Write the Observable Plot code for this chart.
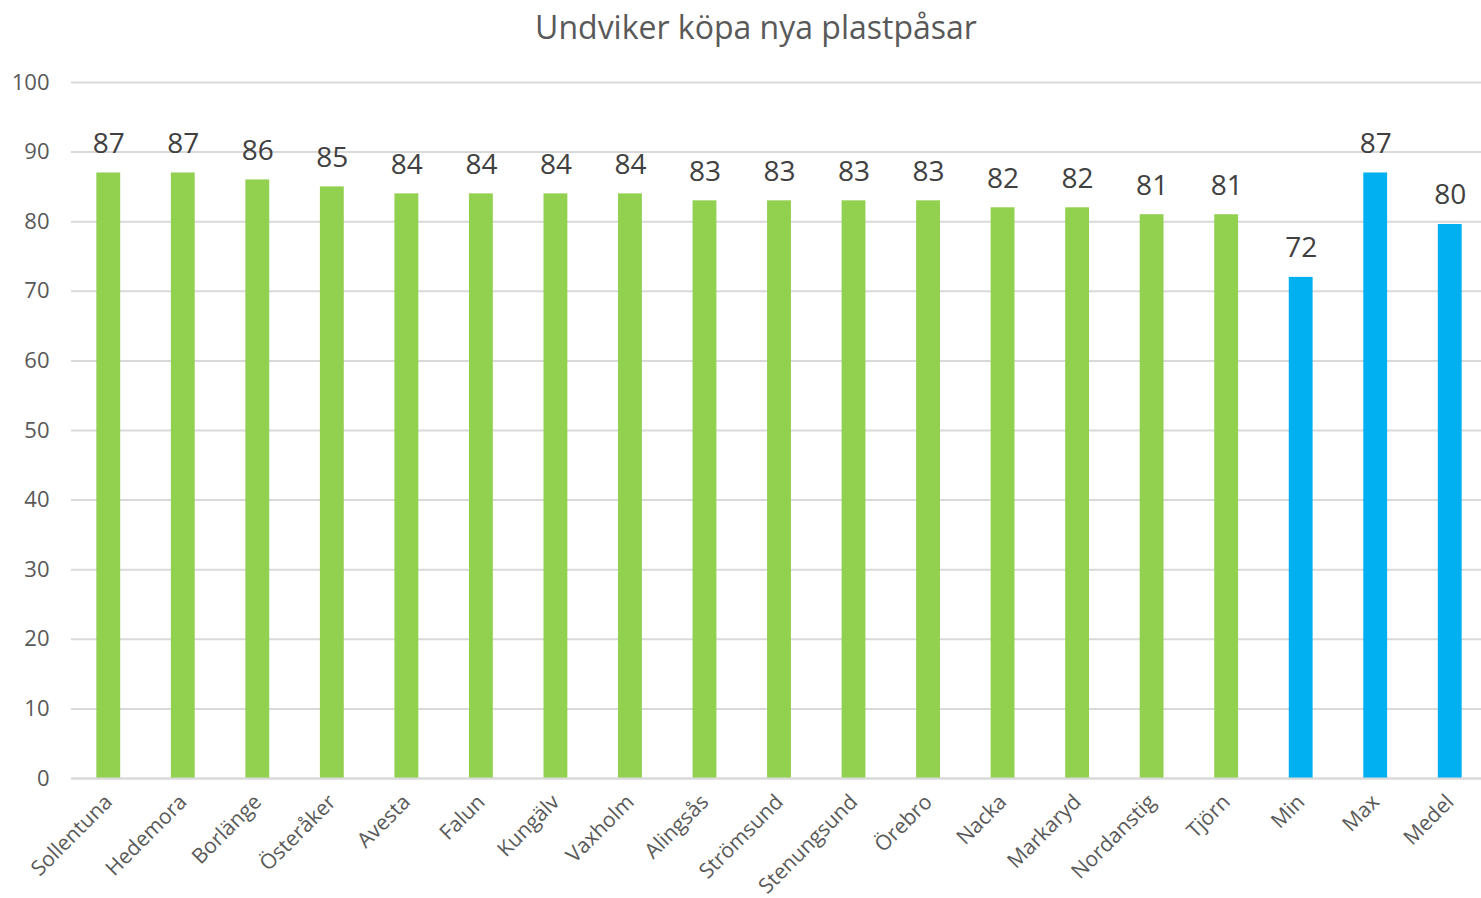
<!DOCTYPE html>
<html><head><meta charset="utf-8">
<script src="https://cdn.jsdelivr.net/npm/d3@7"></script>
<script src="https://cdn.jsdelivr.net/npm/@observablehq/plot@0.6"></script>
<style>
body{margin:0;background:#fff;font-family:"Open Sans",sans-serif;}
#title{height:50px;line-height:54px;text-align:center;font-size:32px;color:#595959;padding-left:31px;}
</style></head>
<body>
<div id="title">Undviker köpa nya plastpåsar</div>
<div id="chart"></div>
<script>
const categories = ["Sollentuna","Hedemora","Borlänge","Österåker","Avesta","Falun","Kungälv","Vaxholm","Alingsås","Strömsund","Stenungsund","Örebro","Nacka","Markaryd","Nordanstig","Tjörn","Min","Max","Medel"];
const values = [87,87,86,85,84,84,84,84,83,83,83,83,82,82,81,81,72,87,79.6];
const groups = ["kommun","kommun","kommun","kommun","kommun","kommun","kommun","kommun","kommun","kommun","kommun","kommun","kommun","kommun","kommun","kommun","stat","stat","stat"];
const yTicks = [0,10,20,30,40,50,60,70,80,90,100];

const data = categories.map((c,i)=>({cat:c, v:values[i], g:groups[i]}));

const chart = Plot.plot({
  width: 1481,
  height: 848,
  marginTop: 32,
  marginBottom: 120,
  marginLeft: 71,
  marginRight: -6,
  style: {fontFamily: '"Open Sans", sans-serif', color: "#595959", background: "#fff", overflow: "hidden"},
  x: {domain: categories, paddingInner: 0.68, paddingOuter: 0.34, round: false, label: null},
  y: {domain: [0,100], ticks: yTicks, label: null},
  color: {domain: ["kommun","stat"], range: ["#92D050","#00B0F0"]},
  marks: [
    Plot.gridY(yTicks, {stroke: "#d9d9d9", strokeOpacity: 1, strokeWidth: 2}),
    Plot.axisY(yTicks, {tickSize: 0, tickPadding: 22, fontSize: 22, fill: "#595959", label: null}),
    Plot.barY(data, {x: "cat", y: "v", fill: "g"}),
    Plot.text(data, {x: "cat", y: "v", text: d => String(Math.round(d.v)), dy: -29, fontSize: 28, fill: "#404040"}),
    Plot.axisX({tickSize: 0, tickPadding: 20, tickRotate: -45, fontSize: 21, fill: "#595959", label: null}),
    Plot.ruleY([0], {stroke: "#d9d9d9", strokeWidth: 2})
  ]
});
document.getElementById("chart").appendChild(chart);
</script>
</body></html>
